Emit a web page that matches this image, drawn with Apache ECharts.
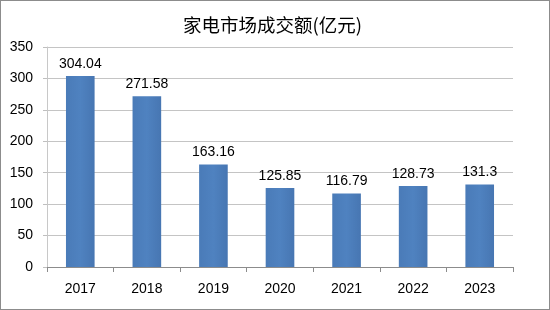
<!DOCTYPE html>
<html><head><meta charset="utf-8">
<script src="https://cdn.jsdelivr.net/npm/echarts@6/dist/echarts.min.js"></script>
<style>html,body{margin:0;padding:0;background:#fff}#c{width:550px;height:310px;box-sizing:border-box;border:1px solid #8c8c8c;}</style>
</head><body><div id="c"></div>
<script>
const categories = ['2017','2018','2019','2020','2021','2022','2023'];
const values = [304.04, 271.58, 163.16, 125.85, 116.79, 128.73, 131.3];
const valueLabels = ['304.04','271.58','163.16','125.85','116.79','128.73','131.3'];
const titleText = '家电市场成交额(亿元)';

const chart = echarts.init(document.getElementById('c'), null, {renderer:'canvas'});
const font = '"Liberation Sans", "Noto Sans CJK SC", sans-serif';
chart.setOption({
  animation: false,
  backgroundColor: '#fff',
  title: {text: titleText, left: 177, top: 10,
    textStyle: {fontFamily: '"Noto Sans CJK SC", sans-serif', fontSize: 18.5, fontWeight: 'normal', color: '#000'}},
  grid: {left: 46, right: 36, top: 46, bottom: 42},
  xAxis: {type: 'category', data: categories,
    axisLine: {lineStyle: {color: '#8c8c8c'}},
    axisTick: {show: true, length: 5, lineStyle: {color: '#8c8c8c'}},
    axisLabel: {fontFamily: font, fontSize: 14, color: '#000', margin: 15}},
  yAxis: {type: 'value', min: 0, max: 350, interval: 50,
    axisLine: {show: true, lineStyle: {color: '#c8c8c8'}},
    axisTick: {show: true, length: 4, lineStyle: {color: '#bfbfbf'}},
    splitLine: {lineStyle: {color: '#c4c4c4'}},
    axisLabel: {fontFamily: font, fontSize: 14, color: '#000', margin: 14}},
  series: [{type: 'bar', data: values, barWidth: '43%',
    itemStyle: {color: new echarts.graphic.LinearGradient(0,0,1,0,[
      {offset:0,color:'#4a7bb8'},{offset:0.5,color:'#4f82c0'},{offset:1,color:'#4776b2'}])},
    label: {show: true, position: 'top', distance: 5, fontFamily: font, fontSize: 14, color: '#000',
      formatter: p => valueLabels[p.dataIndex]}}]
});
</script></body></html>
